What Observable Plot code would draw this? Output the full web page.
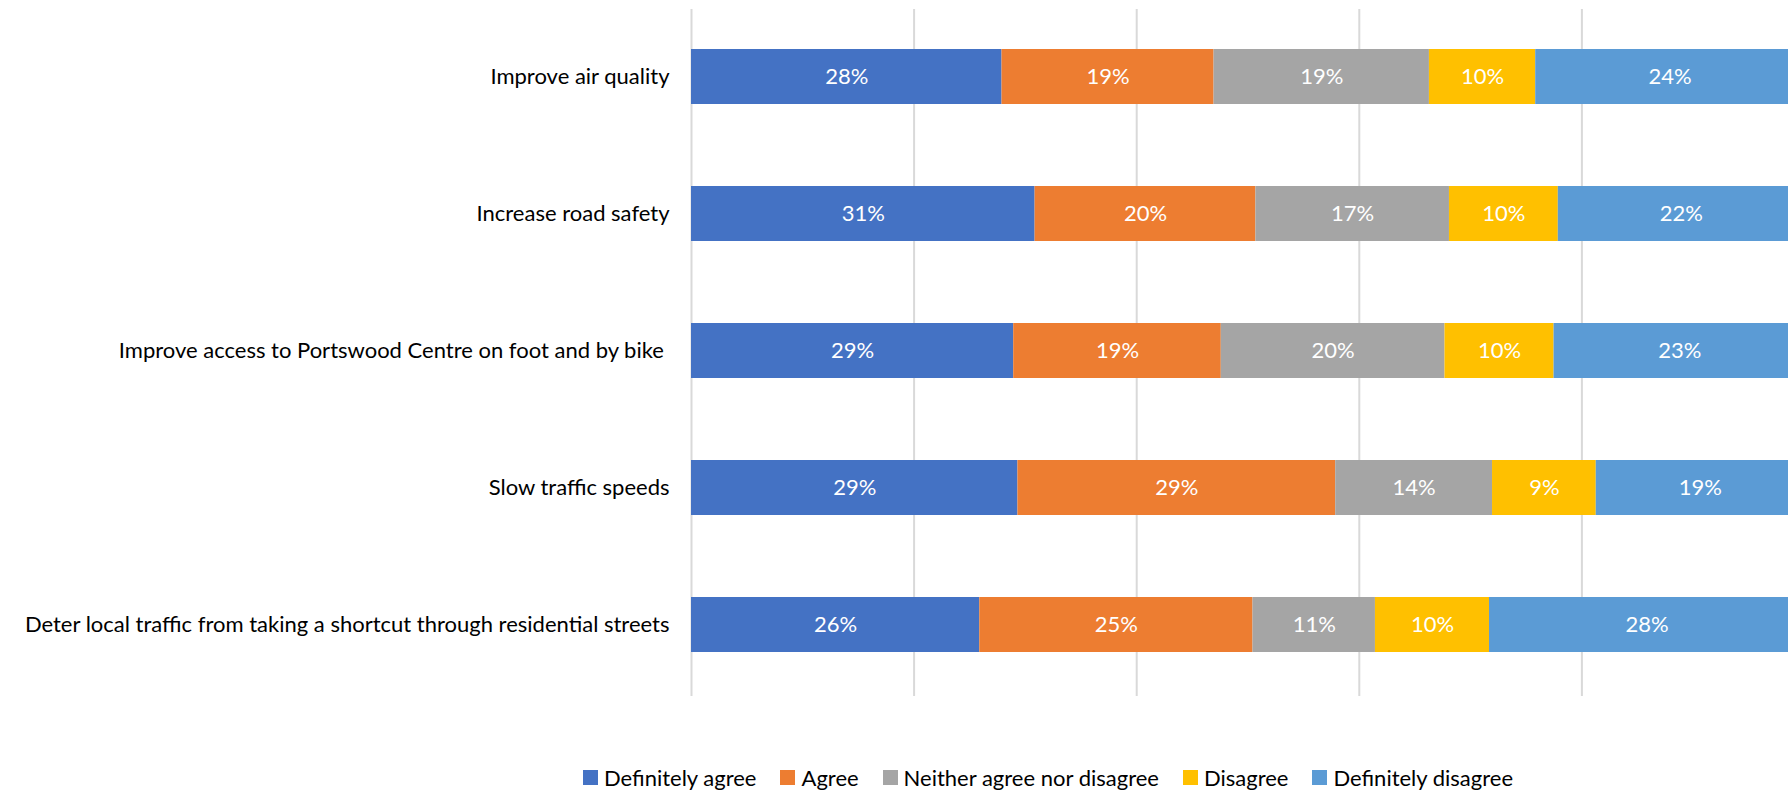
<!DOCTYPE html>
<html>
<head>
<meta charset="utf-8">
<script src="https://cdn.jsdelivr.net/npm/d3@7"></script>
<script src="https://cdn.jsdelivr.net/npm/@observablehq/plot@0.6"></script>
<style>
  html, body { margin: 0; padding: 0; background: #fff; overflow: hidden; width: 1788px; height: 793px; }
  #chart svg text { white-space: pre; }
  #legend { position: absolute; left: 583px; top: 764px; display: flex; align-items: center;
            font-family: Lato, "Noto Sans", sans-serif; font-size: 22px; color: #000; white-space: nowrap; }
  #legend .item { display: flex; align-items: center; margin-right: 24px; }
  #legend .sw { width: 15px; height: 15px; margin-right: 6px; display: inline-block; }
</style>
</head>
<body>
<div id="chart"></div>
<div id="legend"></div>
<script>
const categories = [
  "Improve air quality",
  "Increase road safety",
  "Improve access to Portswood Centre on foot and by bike ",
  "Slow traffic speeds",
  "Deter local traffic from taking a shortcut through residential streets"
];
const series = ["Definitely agree", "Agree", "Neither agree nor disagree", "Disagree", "Definitely disagree"];
const definitelyAgree    = [27.9, 30.87, 28.95, 29.33, 25.9];
const agree              = [19.05, 19.84, 18.65, 28.55, 24.55];
const neither            = [19.35, 17.39, 20.1, 14.09, 11.0];
const disagree           = [9.55, 9.78, 9.8, 9.32, 10.25];
const definitelyDisagree = [24.15, 22.12, 22.6, 18.71, 28.3];
const colors = ["#4472C4", "#ED7D31", "#A5A5A5", "#FFC000", "#5B9BD5"];
const gridTicks = [0, 20, 40, 60, 80, 100];

const seriesValues = [definitelyAgree, agree, neither, disagree, definitelyDisagree];
const data = [];
categories.forEach((c, i) => {
  series.forEach((s, j) => data.push({category: c, series: s, value: seriesValues[j][i]}));
});

const chart = Plot.plot({
  width: 1804,
  height: 700,
  marginLeft: 691,
  marginRight: 0,
  marginTop: 9,
  marginBottom: 4,
  style: "max-width:none; overflow:visible; font-family: Lato, 'Noto Sans', sans-serif; background:#fff;",
  x: {domain: [0, 100], axis: null},
  y: {domain: categories, padding: 0, axis: null},
  color: {domain: series, range: colors},
  marks: [
    Plot.gridX(gridTicks, {stroke: "#d9d9d9", strokeOpacity: 1, strokeWidth: 2}),
    Plot.barX(data, Plot.stackX({
      x: "value", y: "category", z: "series", fill: "series",
      insetTop: 39, insetBottom: 43
    })),
    Plot.text(data, Plot.stackX({
      x: "value", y: "category", z: "series",
      text: d => Math.round(d.value) + "%",
      fill: "white", fontSize: 22, dy: -2
    })),
    Plot.axisY({tickSize: 0, tickPadding: 22, fontSize: 22, color: "#000", label: null, dy: -2})
  ]
});
document.getElementById("chart").appendChild(chart);

const legend = document.getElementById("legend");
series.forEach((s, j) => {
  const item = document.createElement("span");
  item.className = "item";
  const sw = document.createElement("span");
  sw.className = "sw";
  sw.style.background = colors[j];
  item.appendChild(sw);
  item.appendChild(document.createTextNode(s));
  legend.appendChild(item);
});
</script>
</body>
</html>
